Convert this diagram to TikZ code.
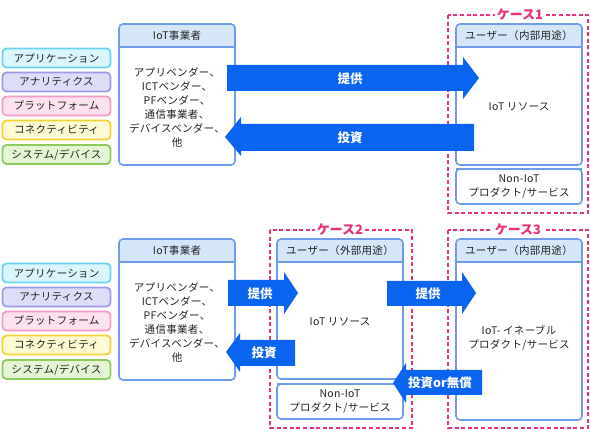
\documentclass[tikz,border=0pt]{standalone}
\usepackage{fontspec}
\setmainfont{Noto Sans CJK JP}
\newfontfamily\jpsp[LetterSpace=3]{Noto Sans CJK JP}
\usetikzlibrary{fit}
\definecolor{bordc}{HTML}{6E9CEB}
\definecolor{hdrc}{HTML}{D4E6F8}
\definecolor{arrc}{HTML}{0A64F0}
\definecolor{casec}{HTML}{E8307E}
\definecolor{txtc}{HTML}{222222}
\definecolor{c1f}{HTML}{DAF6FC}\definecolor{c1d}{HTML}{6AD4EE}
\definecolor{c2f}{HTML}{DEDDF8}\definecolor{c2d}{HTML}{9C9BE6}
\definecolor{c3f}{HTML}{FDE1EF}\definecolor{c3d}{HTML}{F29BC8}
\definecolor{c4f}{HTML}{FDFBD3}\definecolor{c4d}{HTML}{F3D233}
\definecolor{c5f}{HTML}{E4F4D4}\definecolor{c5d}{HTML}{8FCB5C}
\tikzset{
  bord/.style={draw=bordc, line width=1.6pt},
  cat/.style={line width=1.8pt, rounded corners=4pt, minimum width=108pt, minimum height=19pt, inner sep=0pt, text=txtc, font=\jpsp\fontsize{10.5}{12}\selectfont},
  txt/.style={font=\jpsp\fontsize{10.5}{14}\selectfont, text=txtc, align=center, inner sep=0pt},
  alab/.style={font=\fontsize{12.5}{14}\selectfont\bfseries, text=white, inner sep=0pt},
  caselab/.style={font=\fontsize{13}{14}\selectfont\bfseries, text=casec, fill=white, inner sep=1.5pt},
  casebox/.style={draw=casec, line width=1.8pt, dash pattern=on 4pt off 2.6pt},
  blk/.style={fill=arrc}
}
\newcommand\mybox[6]{%
  \node[fit={(#2,#3) (#4,#5)}, inner sep=0pt, fill=white, rounded corners=4pt] (#1) {};
  \begin{scope}\clip[rounded corners=4pt] (#2,#3) rectangle (#4,#5);
    \fill[hdrc] (#2,#3) rectangle (#4,#6);\end{scope}
  \draw[bord] (#2,#6) -- (#4,#6);
  \draw[bord, rounded corners=4pt] (#2,#3) rectangle (#4,#5);
}
\newcommand\cats[2]{%
  \node[cat, draw=c1d, fill=c1f] (#1a) at (56.5,#2) {アプリケーション};
  \node[cat, draw=c2d, fill=c2f] (#1b) at (56.5,#2+24) {アナリティクス};
  \node[cat, draw=c3d, fill=c3f] (#1c) at (56.5,#2+48) {プラットフォーム};
  \node[cat, draw=c4d, fill=c4f] (#1d) at (56.5,#2+72) {コネクティビティ};
  \node[cat, draw=c5d, fill=c5f] (#1e) at (56.5,#2+96.5) {システム/デバイス};
}
\begin{document}
\begin{tikzpicture}[x=1pt,y=-1pt]
\useasboundingbox (0,0) rectangle (590,438);
% ---------------- top ----------------
\cats{t}{58}
\mybox{tp}{119}{24}{235}{165}{47}
\node[txt] (tph) at (177,35.5) {IoT事業者};
\node[txt] (tpb) at (177,107) {アプリベンダー、\\ICTベンダー、\\PFベンダー、\\通信事業者、\\デバイスベンダー、\\他};
\draw[casebox] (448,15) rectangle (588,213);
\node[caselab] (c1) at (520,15) {ケース1};
\mybox{tu}{456}{24}{582}{165}{47}
\node[txt] (tuh) at (519,35.5) {ユーザー（内部用途）};
\node[txt] (tub) at (519,107) {IoT リソース};
\mybox{tn}{456}{169}{582}{204}{169}
\node[txt] (tnb) at (519,187) {Non-IoT\\プロダクト/サービス};
% arrows
\fill[blk] (227,65) -- (463,65) -- (463,57) -- (479,78) -- (463,99) -- (463,91) -- (227,91) -- cycle;
\node[alab] (ta1) at (350,79) {提供};
\fill[blk] (474,124) -- (241,124) -- (241,117) -- (225,137) -- (241,156) -- (241,151) -- (474,151) -- cycle;
\node[alab] (ta2) at (350,138) {投資};
% ---------------- bottom ----------------
\cats{b}{273}
\mybox{bp}{119}{239}{235}{380}{262}
\node[txt] (bph) at (177,250.5) {IoT事業者};
\node[txt] (bpb) at (177,322) {アプリベンダー、\\ICTベンダー、\\PFベンダー、\\通信事業者、\\デバイスベンダー、\\他};
\draw[casebox] (270,230) rectangle (412,428);
\node[caselab] (c2) at (340,230) {ケース2};
\mybox{bu}{277}{239}{403}{379}{262}
\node[txt] (buh) at (340,250.5) {ユーザー（外部用途）};
\node[txt] (bub) at (340,322) {IoT リソース};
\mybox{bn}{277}{384}{403}{419}{384}
\node[txt] (bnb) at (340,402) {Non-IoT\\プロダクト/サービス};
\draw[casebox] (448,230) rectangle (588,428);
\node[caselab] (c3) at (518,230) {ケース3};
\mybox{bv}{456}{239}{582}{420}{262}
\node[txt] (bvh) at (519,250.5) {ユーザー（内部用途）};
\node[txt] (bvb) at (519,338) {IoT- イネーブル\\プロダクト/サービス};
% arrows
\fill[blk] (228,280) -- (284,280) -- (284,272) -- (298,293) -- (284,314) -- (284,306) -- (228,306) -- cycle;
\node[alab] (ba1) at (260,294) {提供};
\fill[blk] (295,340) -- (240,340) -- (240,333) -- (226,352) -- (240,372) -- (240,366) -- (295,366) -- cycle;
\node[alab] (ba2) at (264,353) {投資};
\fill[blk] (387,281) -- (462,281) -- (462,272) -- (476,293) -- (462,314) -- (462,306) -- (387,306) -- cycle;
\node[alab] (ba3) at (428,294) {提供};
\fill[blk] (482,370) -- (406,370) -- (406,363) -- (393,383) -- (406,403) -- (406,395) -- (482,395) -- cycle;
\node[alab] (ba4) at (440,383) {投資or無償};
\end{tikzpicture}
\end{document}
